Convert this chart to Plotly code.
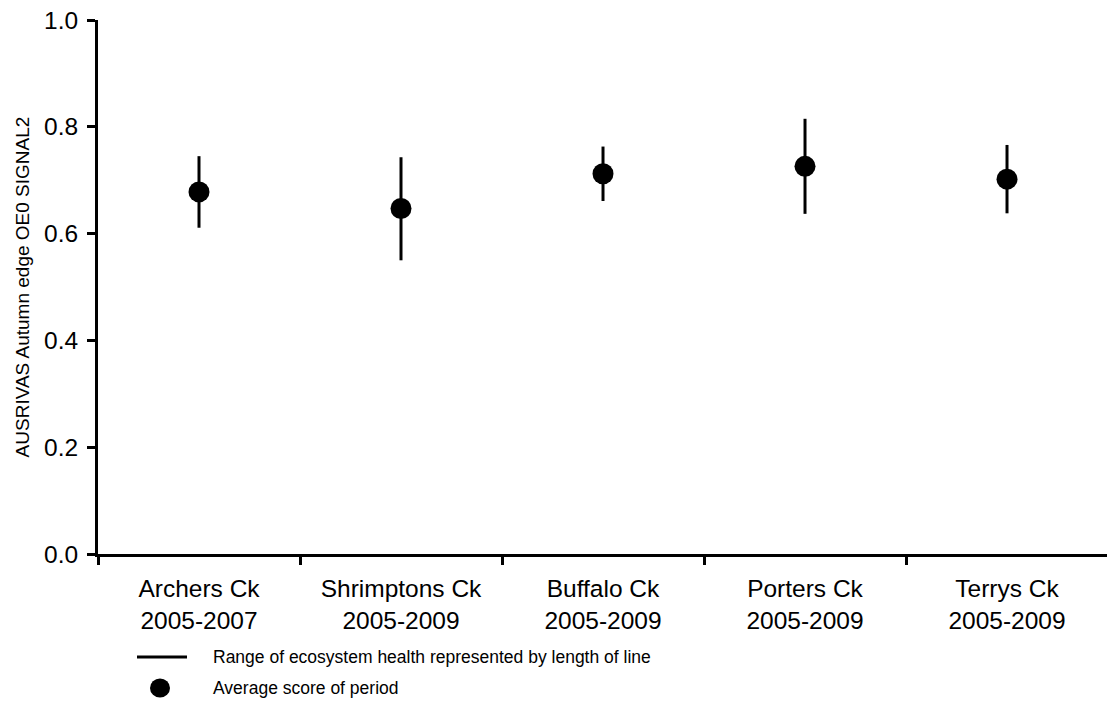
import plotly.graph_objects as go

sites = ["Archers Ck", "Shrimptons Ck", "Buffalo Ck", "Porters Ck", "Terrys Ck"]
periods = ["2005-2007", "2005-2009", "2005-2009", "2005-2009", "2005-2009"]
mean_score = [0.678, 0.647, 0.712, 0.726, 0.702]
low_score = [0.611, 0.550, 0.661, 0.637, 0.638]
high_score = [0.745, 0.743, 0.763, 0.815, 0.766]
y_ticks = [0.0, 0.2, 0.4, 0.6, 0.8, 1.0]

labels = [f"{s}<br>{p}" for s, p in zip(sites, periods)]
FONT = "Arial, 'Liberation Sans', sans-serif"

W, H = 1107, 711
ML, MR, MT, MB = 98, 0, 20, 157
PW, PH = W - ML - MR, H - MT - MB


def px_x(x):
    return (x - ML) / PW


def px_y(y):
    return (H - MB - y) / PH


fig = go.Figure()
fig.add_trace(go.Scatter(
    x=labels, y=mean_score, mode="markers",
    marker=dict(size=21, color="black"),
    error_y=dict(type="data", symmetric=False,
                 array=[h - m for h, m in zip(high_score, mean_score)],
                 arrayminus=[m - l for m, l in zip(mean_score, low_score)],
                 thickness=3, width=0, color="black"),
    showlegend=False, hoverinfo="skip",
))

# legend drawn manually
ROW1, ROW2 = 657, 688
fig.add_shape(type="line", xref="paper", yref="paper",
              x0=px_x(137), x1=px_x(187), y0=px_y(ROW1), y1=px_y(ROW1),
              line=dict(color="black", width=3))
fig.add_shape(type="circle", xref="paper", yref="paper",
              x0=px_x(150), x1=px_x(170), y0=px_y(ROW2 - 9.5), y1=px_y(ROW2 + 9.5),
              fillcolor="black", line=dict(color="black", width=0))
fig.add_annotation(text="Range of ecosystem health represented by length of line",
                   xref="paper", yref="paper", x=px_x(211), y=px_y(ROW1),
                   xanchor="left", yanchor="middle", showarrow=False,
                   font=dict(size=17.5, color="black", family=FONT))
fig.add_annotation(text="Average score of period",
                   xref="paper", yref="paper", x=px_x(211), y=px_y(ROW2),
                   xanchor="left", yanchor="middle", showarrow=False,
                   font=dict(size=17.5, color="black", family=FONT))

fig.update_layout(
    width=W, height=H,
    margin=dict(l=ML, r=MR, t=MT, b=MB, pad=0),
    paper_bgcolor="white", plot_bgcolor="white",
    font=dict(family=FONT, color="black"),
    xaxis=dict(type="category", range=[-0.5, 4.495], tickson="boundaries",
               showline=True, linecolor="black", linewidth=3,
               ticks="outside", ticklen=8, tickwidth=3, tickcolor="black",
               showgrid=False, zeroline=False,
               tickfont=dict(size=24.5, family=FONT, color="black"),
               ticklabelstandoff=11),
    yaxis=dict(range=[0, 1], tickvals=y_ticks,
               ticktext=[f"{v:.1f}" for v in y_ticks],
               showline=True, linecolor="black", linewidth=3,
               ticks="outside", ticklen=8, tickwidth=3, tickcolor="black",
               showgrid=False, zeroline=False,
               tickfont=dict(size=24.5, family=FONT, color="black"),
               ticklabelstandoff=4,
               title=dict(text="AUSRIVAS Autumn edge OE0 SIGNAL2",
                          font=dict(size=19, family=FONT, color="black"),
                          standoff=10)),
)

fig.write_html("out.html")
